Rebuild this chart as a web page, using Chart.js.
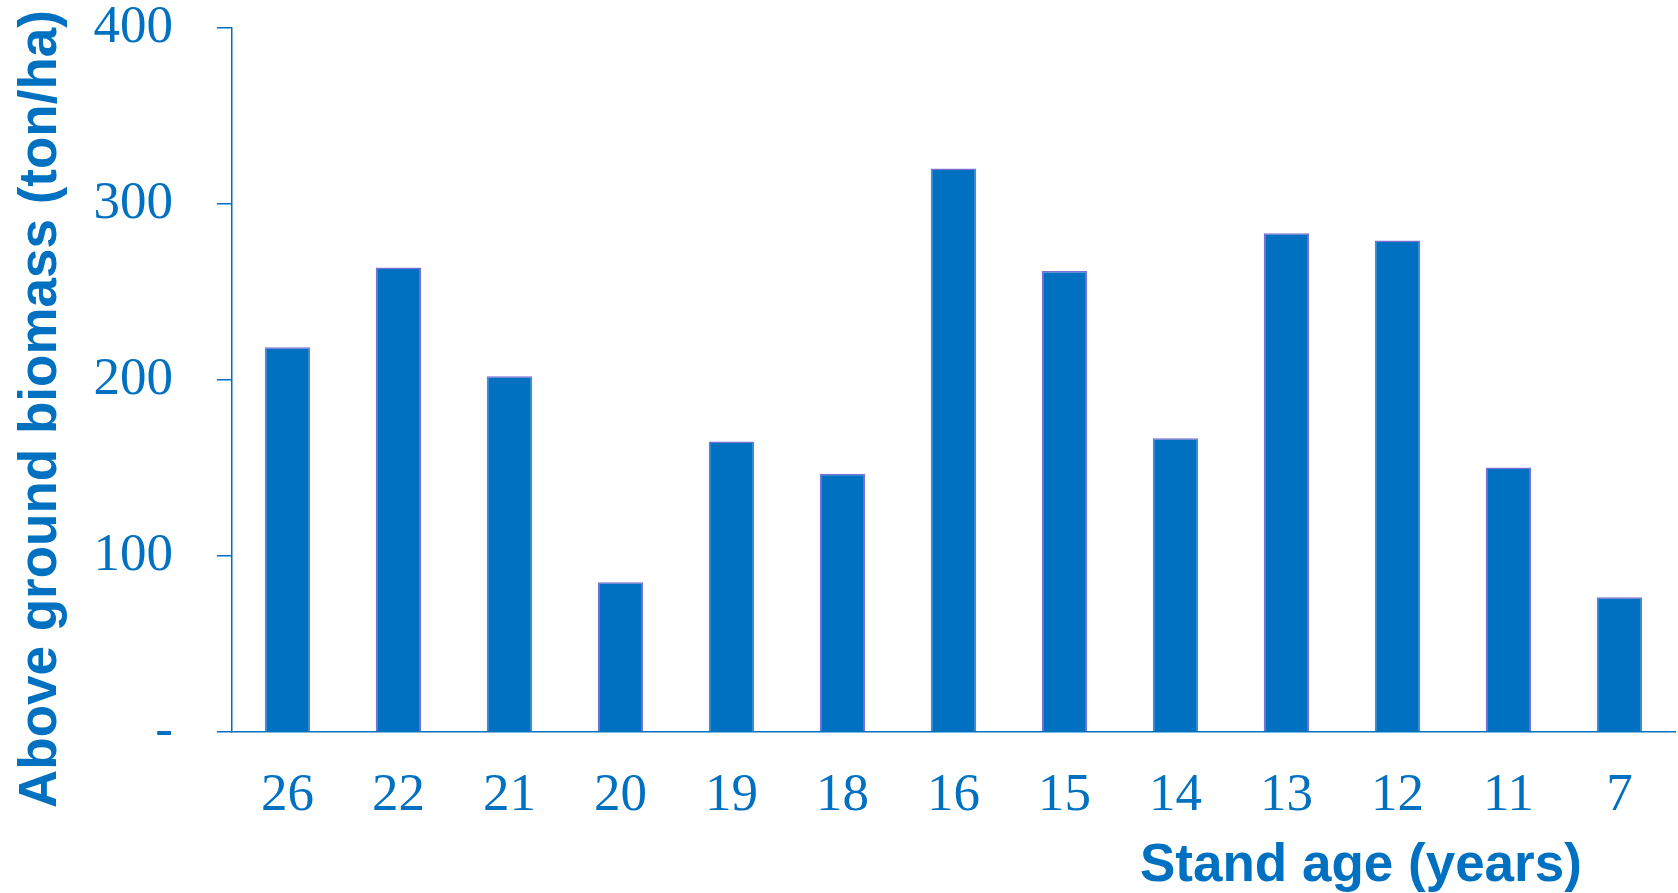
<!DOCTYPE html>
<html>
<head>
<meta charset="utf-8">
<title>Above ground biomass by stand age</title>
<script src="https://cdn.jsdelivr.net/npm/chart.js@4.4.0/dist/chart.umd.min.js"></script>
<style>
  html, body { margin: 0; padding: 0; background: #ffffff; }
  #wrap { width: 1678px; height: 893px; position: relative; }
</style>
</head>
<body>
<div id="wrap"><canvas id="chart" width="1678" height="893"></canvas></div>
<script>
// Stand ages (years) and above ground biomass (ton/ha)
const standAges = ['26', '22', '21', '20', '19', '18', '16', '15', '14', '13', '12', '11', '7'];
const biomass = [218.6, 263.9, 202.2, 85.1, 165.0, 146.7, 320.2, 262.0, 166.9, 283.4, 279.3, 150.3, 76.6];
const yTickValues = [0, 100, 200, 300, 400];
const yTickLabels = ['-', '100', '200', '300', '400'];
const xTitle = 'Stand age (years)';
const yTitle = 'Above ground biomass (ton/ha)';

const BLUE = '#0070C0';
const EDGE = '#7B72D6';
const SERIF = '"Liberation Serif", "Times New Roman", serif';
const SANS = '"Liberation Sans", Arial, sans-serif';

// Axis titles drawn as canvas text at fixed spots around the plot
const axisTitles = {
  id: 'axisTitles',
  afterDraw(chart) {
    const ctx = chart.ctx;
    ctx.save();
    ctx.fillStyle = BLUE;
    ctx.font = 'bold 53px ' + SANS;
    ctx.textBaseline = 'alphabetic';
    ctx.textAlign = 'left';
    ctx.fillText(xTitle, 1140, 881);
    ctx.translate(56, 808);
    ctx.rotate(-Math.PI / 2);
    ctx.fillText(yTitle, 0, 0);
    ctx.restore();
  }
};

new Chart(document.getElementById('chart'), {
  type: 'bar',
  data: {
    labels: standAges,
    datasets: [{
      data: biomass,
      backgroundColor: BLUE,
      borderColor: EDGE,
      borderWidth: 1.5,
      barPercentage: 0.41,
      categoryPercentage: 1.0
    }]
  },
  options: {
    responsive: false,
    animation: false,
    devicePixelRatio: 1,
    layout: { padding: { top: 28, right: 3, left: 0, bottom: 0 } },
    plugins: {
      legend: { display: false },
      tooltip: { enabled: false }
    },
    scales: {
      x: {
        grid: { display: false, drawTicks: false },
        border: { display: true, color: BLUE, width: 1.5 },
        ticks: {
          color: BLUE,
          font: { family: SERIF, size: 53 },
          padding: 32,
          maxRotation: 0,
          autoSkip: false
        },
        afterFit(s) { s.height = 161; s.paddingLeft = 0; s.paddingRight = 0; }
      },
      y: {
        min: 0,
        max: 400,
        afterBuildTicks(s) { s.ticks = yTickValues.map(v => ({ value: v })); },
        ticks: {
          color: BLUE,
          font: { family: SERIF, size: 53 },
          padding: 44,
          callback(v) { return yTickLabels[yTickValues.indexOf(v)]; }
        },
        grid: {
          display: true,
          drawOnChartArea: false,
          drawTicks: true,
          tickLength: 15,
          color: BLUE,
          lineWidth: 1.5
        },
        border: { display: true, color: BLUE, width: 1.5 },
        afterFit(s) { s.width = 232; s.paddingTop = 0; s.paddingBottom = 0; }
      }
    }
  },
  plugins: [axisTitles]
});
</script>
</body>
</html>
